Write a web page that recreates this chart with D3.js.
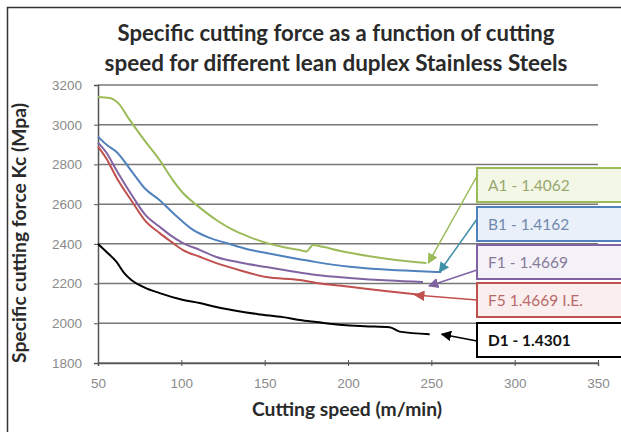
<!DOCTYPE html>
<html><head><meta charset="utf-8">
<script src="https://cdn.jsdelivr.net/npm/d3@7"></script>
<style>body{margin:0;background:#fff}svg{display:block}</style>
</head><body>
<script>
const titleLines = ["Specific cutting force as a function of cutting", "speed for different lean duplex Stainless Steels"];
const xLabel = "Cutting speed (m/min)";
const yLabel = "Specific cutting force Kc (Mpa)";
const xTicks = [50, 100, 150, 200, 250, 300, 350];
const yTicks = [1800, 2000, 2200, 2400, 2600, 2800, 3000, 3200];

const seriesNames = ["A1 - 1.4062", "B1 - 1.4162", "F1 - 1.4669", "F5 1.4669 I.E.", "D1 - 1.4301"];
const seriesColors = ["#9bbb59", "#4f81bd", "#8064a2", "#c0504d", "#000000"];
const boxFills = ["#f3f7e6", "#e9f0f9", "#f4f1f8", "#fbeeee", "#ffffff"];
const textColors = ["#98a66e", "#7189ad", "#867a98", "#b86a68", "#111111"];

const speedA1 = [50, 57, 62, 69, 78, 87, 95, 101, 110, 121, 131, 141, 151, 161, 171, 175, 179, 185, 195, 201, 215, 230, 247];
const forceA1 = [3140, 3135, 3110, 3024, 2920, 2822, 2720, 2656, 2590, 2520, 2470, 2434, 2405, 2384, 2369, 2362, 2394, 2385, 2365, 2355, 2335, 2318, 2303];
const speedB1 = [50, 55, 61, 71, 78, 87, 97, 107, 117, 127, 141, 151, 166, 181, 201, 220, 240, 256];
const forceB1 = [2940, 2900, 2864, 2756, 2680, 2620, 2540, 2470, 2430, 2404, 2370, 2354, 2330, 2308, 2285, 2272, 2263, 2258];
const speedF1 = [50, 55, 61, 71, 78, 87, 94, 101, 111, 121, 136, 151, 166, 181, 201, 225, 245];
const forceF1 = [2910, 2860, 2772, 2636, 2550, 2486, 2440, 2404, 2370, 2334, 2305, 2283, 2262, 2243, 2228, 2215, 2208];
const speedF5 = [50, 55, 61, 71, 78, 87, 94, 101, 111, 121, 136, 151, 171, 181, 201, 225, 245];
const forceF5 = [2890, 2830, 2736, 2606, 2520, 2454, 2410, 2369, 2335, 2303, 2265, 2233, 2218, 2203, 2184, 2160, 2142];
const speedD1 = [50, 55, 61, 66, 70, 78, 87, 100, 111, 121, 131, 146, 161, 171, 181, 197, 210, 225, 231, 249];
const forceD1 = [2400, 2360, 2310, 2250, 2218, 2180, 2152, 2120, 2102, 2082, 2066, 2046, 2031, 2016, 2006, 1991, 1985, 1980, 1958, 1945];

const speeds = [speedA1, speedB1, speedF1, speedF5, speedD1];
const forces = [forceA1, forceB1, forceF1, forceF5, forceD1];

const W = 621, H = 432;
const svg = d3.select("body").append("svg").attr("width", W).attr("height", H);

function fit(sel, target) {
  sel.each(function () {
    const fs = parseFloat(this.getAttribute("font-size"));
    const w = this.getComputedTextLength();
    if (w > 0) this.setAttribute("font-size", (fs * target / w).toFixed(2));
  });
}

// outer frame
svg.append("rect").attr("x", 7.5).attr("y", 7.5).attr("width", W + 10).attr("height", H + 10)
  .attr("fill", "#fff").attr("stroke", "#333").attr("stroke-width", 1.5);

const x = d3.scaleLinear().domain([50, 350]).range([98, 598]);
const y = d3.scaleLinear().domain([1800, 3200]).range([363, 85]);

// title
const titleWidths = [437, 463];
svg.append("g").selectAll("text").data(titleLines).join("text")
  .attr("x", 336).attr("y", (d, i) => 41 + i * 30)
  .attr("text-anchor", "middle")
  .attr("font-family", "Lato, sans-serif").attr("font-weight", "bold").attr("font-size", 20)
  .attr("fill", "#2a2a2a").text(d => d)
  .each(function (d, i) { fit(d3.select(this), titleWidths[i]); });

// gridlines
svg.append("g").selectAll("line").data(yTicks).join("line")
  .attr("x1", x(50)).attr("x2", x(350)).attr("y1", d => y(d)).attr("y2", d => y(d))
  .attr("stroke", "#777").attr("stroke-width", 1.5);

// axes
const yAxis = svg.append("g").attr("transform", `translate(${x(50)},0)`)
  .call(d3.axisLeft(y).tickValues(yTicks).tickSize(4).tickPadding(12).tickFormat(d3.format("d")));
const xAxis = svg.append("g").attr("transform", `translate(0,${y(1800)})`)
  .call(d3.axisBottom(x).tickValues(xTicks).tickSize(3).tickPadding(12).tickFormat(d3.format("d")));
[yAxis, xAxis].forEach(g => {
  g.select(".domain").attr("stroke", "#555").attr("stroke-width", 1.5);
  g.selectAll(".tick line").attr("stroke", "#555");
  g.selectAll(".tick text").attr("fill", "#8a8a8a").attr("font-family", "Liberation Sans, Arial, sans-serif").attr("font-size", 13.5);
});
xAxis.selectAll(".tick line").attr("y1", -3);

// axis labels
svg.append("text").attr("x", 347).attr("y", 416).attr("text-anchor", "middle")
  .attr("font-family", "Lato, sans-serif").attr("font-weight", "bold").attr("font-size", 17)
  .attr("fill", "#2a2a2a").text(xLabel).call(fit, 190);
svg.append("text").attr("transform", "translate(26,233) rotate(-90)").attr("text-anchor", "middle")
  .attr("font-family", "Lato, sans-serif").attr("font-weight", "bold").attr("font-size", 16)
  .attr("fill", "#2a2a2a").text(yLabel).call(fit, 260);

// curves
const line = d3.line().x(d => x(d[0])).y(d => y(d[1])).curve(d3.curveMonotoneX);
seriesNames.forEach((n, i) => {
  const pts = speeds[i].map((s, k) => [s, forces[i][k]]);
  svg.append("path").datum(pts).attr("d", line)
    .attr("fill", "none").attr("stroke", seriesColors[i]).attr("stroke-width", 2);
});

// arrows + legend boxes
const defs = svg.append("defs");
const arrowColors = ["#9bbb59", "#3f8fa8", "#8064a2", "#c0504d", "#000"];
arrowColors.forEach((c, i) => {
  defs.append("marker").attr("id", "ah" + i).attr("viewBox", "0 0 10 10")
    .attr("refX", 9).attr("refY", 5).attr("markerWidth", 7).attr("markerHeight", 7)
    .attr("orient", "auto-start-reverse")
    .append("path").attr("d", "M0,0 L10,5 L0,10 z").attr("fill", c);
});
const boxTop = [168, 207, 245, 283, 323];
const arrowStartY = [176, 219, 270, 300, 341];
const arrowEndDx = [-2, 2, -6, 8, -12];
const arrowEndDy = [0, 0, 4, 0, 0];
seriesNames.forEach((n, i) => {
  const sp = speeds[i], fo = forces[i];
  const endS = sp[sp.length - 1], endF = fo[fo.length - 1];
  svg.append("line").attr("x1", 477).attr("y1", arrowStartY[i])
    .attr("x2", x(endS) - arrowEndDx[i]).attr("y2", y(endF) + arrowEndDy[i])
    .attr("stroke", arrowColors[i]).attr("stroke-width", 1.5).attr("marker-end", `url(#ah${i})`);
  svg.append("rect").attr("x", 477).attr("y", boxTop[i]).attr("width", 160).attr("height", 34)
    .attr("fill", boxFills[i]).attr("stroke", seriesColors[i]).attr("stroke-width", 2);
  svg.append("text").attr("x", 488).attr("y", boxTop[i] + 23)
    .attr("font-family", "Lato, sans-serif").attr("font-size", 15.5)
    .attr("font-weight", i === 4 ? "bold" : "normal")
    .attr("fill", textColors[i]).text(n);
});
</script>
</body></html>
